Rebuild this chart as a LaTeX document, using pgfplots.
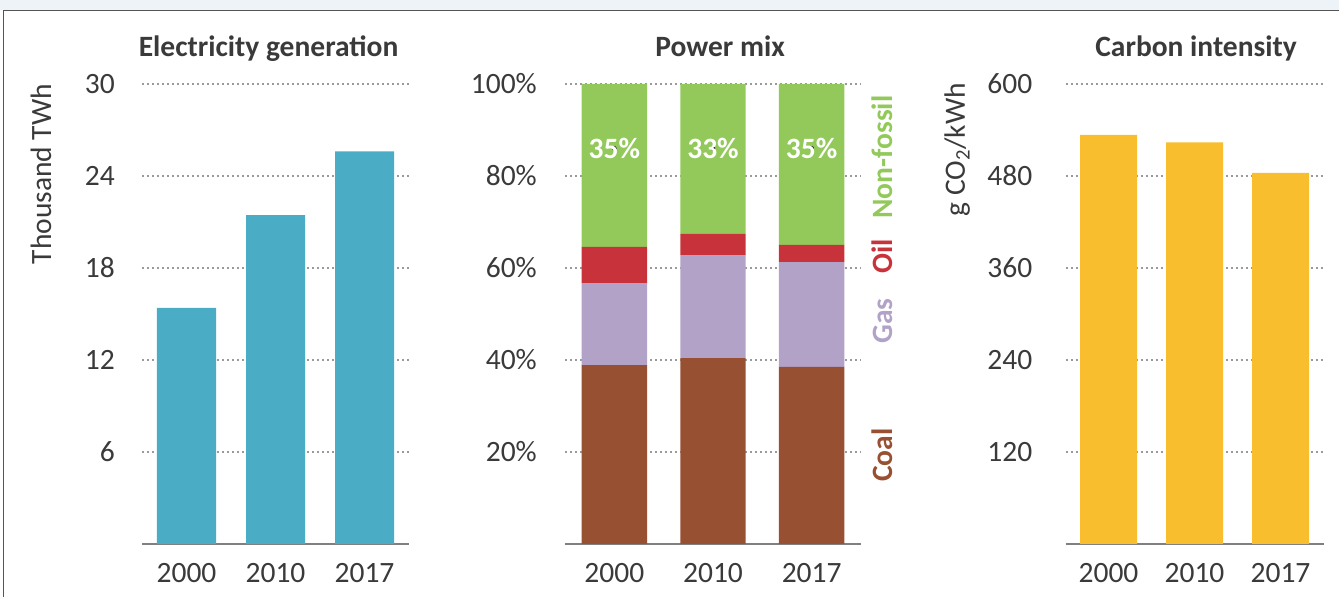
\documentclass[border=0pt]{standalone}
\usepackage{fontspec}
\setmainfont{Carlito}
\usepackage{pgfplots}
\pgfplotsset{compat=1.18}
\definecolor{txt}{HTML}{3A3A3A}
\definecolor{axisgray}{HTML}{808080}
\definecolor{gridgray}{HTML}{9A9A9A}
\definecolor{elec}{HTML}{4BACC6}
\definecolor{coal}{HTML}{985032}
\definecolor{gas}{HTML}{B2A2C8}
\definecolor{oil}{HTML}{C8323A}
\definecolor{nonfossil}{HTML}{92C95A}
\definecolor{carbon}{HTML}{F8BE2D}
\definecolor{framebg}{HTML}{EEF3F8}
\definecolor{framecol}{HTML}{555555}
\newcommand\fs{\fontsize{29.5bp}{35bp}\selectfont}
\pgfplotsset{panel/.style={
  scale only axis, height=460bp, xmin=-0.5, xmax=2.5, ymin=0,
  anchor=south west,
  axis x line=bottom, axis y line=left,
  x axis line style={-, draw=axisgray, line width=2bp},
  y axis line style={draw=none},
  major tick length=0pt,
  xtick={0,1,2}, xticklabels={2000,2010,2017},
  ymajorgrids, grid style={gridgray, line width=2.8bp, dash pattern=on 2.2bp off 2.8bp},
  tick label style={font=\fs, text=txt},
  xticklabel style={anchor=base, inner sep=0pt, yshift=-39bp},
  yticklabel style={anchor=east, inner sep=0pt},
  title style={font=\fs\bfseries, text=txt, anchor=base},
  label style={font=\fs, text=txt},
  enlargelimits=false, clip=false,
  bar width=0.663,
}}
\begin{document}
\begin{tikzpicture}[x=1bp,y=1bp]
\useasboundingbox (0,0) rectangle (1339,597);
\fill[framebg] (0,587) rectangle (1339,597);
\draw[framecol, line width=1.5bp] (3.5,0) -- (3.5,586.5) -- (1339,586.5);

% Panel 1
\begin{axis}[panel, at={(142bp,53bp)}, width=267bp, ymax=30,
  ytick={6,12,18,24,30}, yticklabels={6,12,18,24,30},
  yticklabel style={xshift=-27bp},
  title={Electricity generation}, title style={at={(axis description cs:0.474,1.0457)}},
  ylabel={Thousand TWh}, ylabel style={at={(axis description cs:-0.378,0.804)}, anchor=center}]
\addplot[ybar, fill=elec, draw=none] coordinates {(0,15.4) (1,21.45) (2,25.6)};
\end{axis}

% Panel 2
\begin{axis}[panel, ybar stacked, at={(565bp,53bp)}, width=296bp, ymax=100,
  ytick={20,40,60,80,100}, yticklabels={20\%,40\%,60\%,80\%,100\%},
  yticklabel style={xshift=-28bp},
  title={Power mix}, title style={at={(axis description cs:0.524,1.0457)}}]
\addplot[fill=coal, draw=none] coordinates {(0,38.9) (1,40.4) (2,38.5)};
\addplot[fill=gas, draw=none] coordinates {(0,17.8) (1,22.4) (2,22.8)};
\addplot[fill=oil, draw=none] coordinates {(0,7.9) (1,4.6) (2,3.7)};
\addplot[fill=nonfossil, draw=none] coordinates {(0,35.4) (1,32.6) (2,35.0)};
\node[rotate=90, font=\fs\bfseries, text=nonfossil] at (axis cs:2.72,84.1) {Non-fossil};
\node[rotate=90, font=\fs\bfseries, text=oil] at (axis cs:2.72,62.6) {Oil};
\node[rotate=90, font=\fs\bfseries, text=gas] at (axis cs:2.72,48.5) {Gas};
\node[rotate=90, font=\fs\bfseries, text=coal] at (axis cs:2.72,19.3) {Coal};
\end{axis}
% Panel 2 share labels (overlay)
\begin{axis}[at={(565bp,53bp)}, anchor=south west, scale only axis, width=296bp, height=460bp,
  xmin=-0.5, xmax=2.5, ymin=0, ymax=100, hide axis, clip=false]
\addplot[only marks, mark=*, mark options={draw=none, fill=none}, point meta=explicit symbolic,
  nodes near coords, nodes near coords style={font=\fs\bfseries, text=white, anchor=center, inner sep=0pt}]
  coordinates {(0,86) [35\%] (1,86) [33\%] (2,86) [35\%]};
\end{axis}

% Panel 3
\begin{axis}[panel, at={(1065.5bp,53bp)}, width=258bp, ymax=600,
  ytick={120,240,360,480,600}, yticklabels={120,240,360,480,600},
  yticklabel style={xshift=-33bp},
  title={Carbon intensity}, title style={at={(axis description cs:0.506,1.0457)}},
  ylabel={g CO\textsubscript{2}/kWh}, ylabel style={at={(axis description cs:-0.42,0.857)}, anchor=center}]
\addplot[ybar, fill=carbon, draw=none] coordinates {(0,533.5) (1,524) (2,484)};
\end{axis}
\end{tikzpicture}
\end{document}
